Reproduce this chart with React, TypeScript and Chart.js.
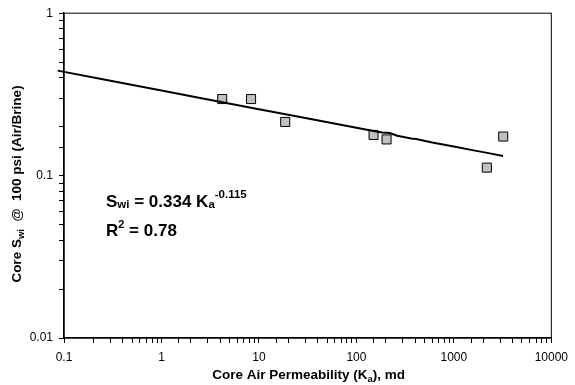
import React, { useEffect, useRef } from "react";
import { Chart, registerables } from "chart.js";

Chart.register(...registerables);

// Measured core data
const permK = [4.2, 8.3, 18.6, 150, 204, 2180, 3210];
const coreSwi = [0.296, 0.296, 0.214, 0.178, 0.167, 0.112, 0.174];

// Trend line
const trendK = [0.086, 0.3, 1, 3, 10, 30, 100, 150, 183, 220, 262, 365, 410, 600, 1000, 1500, 2200, 3200];
const trendSwi = [0.443, 0.384, 0.334, 0.294, 0.256, 0.226, 0.197, 0.188, 0.184, 0.183, 0.176, 0.169, 0.168, 0.16, 0.151, 0.144, 0.138, 0.132];

const xTickLabels: Record<number, string> = { [-1]: "0.1", 0: "1", 1: "10", 2: "100", 3: "1000", 4: "10000" };
const yTickLabels: Record<number, string> = { [-2]: "0.01", [-1]: "0.1", 0: "1" };

const FONT = "'Liberation Sans', Arial, sans-serif";

type Seg = { t: string; s: number; dy?: number };

function drawRich(ctx: CanvasRenderingContext2D, segs: Seg[], x: number, y: number, align: "left" | "center") {
  let total = 0;
  const widths = segs.map((g) => {
    ctx.font = `bold ${g.s}px ${FONT}`;
    const w = ctx.measureText(g.t).width;
    total += w;
    return w;
  });
  let cx = align === "center" ? x - total / 2 : x;
  ctx.textAlign = "left";
  ctx.textBaseline = "alphabetic";
  segs.forEach((g, i) => {
    ctx.font = `bold ${g.s}px ${FONT}`;
    ctx.fillText(g.t, cx, y + (g.dy || 0));
    cx += widths[i];
  });
}

const textPlugin = {
  id: "textPlugin",
  afterDraw(chart: any) {
    const ctx: CanvasRenderingContext2D = chart.ctx;
    const a = chart.chartArea;
    ctx.save();
    ctx.strokeStyle = "#000";
    ctx.lineWidth = 1;
    ctx.strokeRect(a.left, a.top, a.right - a.left, a.bottom - a.top);
    ctx.fillStyle = "#000";
    // x title
    drawRich(
      ctx,
      [
        { t: "Core Air Permeability (K", s: 13.5 },
        { t: "a", s: 9.5, dy: 2.5 },
        { t: "), md", s: 13.5 },
      ],
      (a.left + a.right) / 2 + 1,
      379,
      "center"
    );
    // y title
    ctx.save();
    ctx.translate(21, 184);
    ctx.rotate(-Math.PI / 2);
    drawRich(
      ctx,
      [
        { t: "Core S", s: 13.5 },
        { t: "wi", s: 9.5, dy: 2.5 },
        { t: "  @  100 psi (Air/Brine)", s: 13.5 },
      ],
      0,
      0,
      "center"
    );
    ctx.restore();
    // equation
    drawRich(
      ctx,
      [
        { t: "S", s: 17 },
        { t: "wi", s: 11.5, dy: 1 },
        { t: " = 0.334 K", s: 17 },
        { t: "a", s: 11.5, dy: 1 },
        { t: "-0.115", s: 11.5, dy: -9.5 },
      ],
      106,
      207,
      "left"
    );
    drawRich(
      ctx,
      [
        { t: "R", s: 17 },
        { t: "2", s: 11, dy: -7.5 },
        { t: " = 0.78", s: 17 },
      ],
      106,
      235.5,
      "left"
    );
    ctx.restore();
  },
};

function labelFor(map: Record<number, string>, v: number) {
  const l = Math.log10(v);
  const r = Math.round(l);
  if (Math.abs(l - r) < 1e-6 && map[r] !== undefined) return map[r];
  return "";
}

export default function App() {
  const ref = useRef<HTMLCanvasElement>(null);
  useEffect(() => {
    if (!ref.current) return;
    Chart.defaults.font.family = FONT;
    const chart = new Chart(ref.current, {
      type: "scatter",
      data: {
        datasets: [
          {
            type: "line",
            data: trendK.map((k, i) => ({ x: k, y: trendSwi[i] })),
            borderColor: "#000",
            borderWidth: 2,
            pointRadius: 0,
            fill: false,
            tension: 0,
            clip: false,
          } as any,
          {
            type: "scatter",
            data: permK.map((k, i) => ({ x: k, y: coreSwi[i] })),
            pointStyle: "rect",
            pointRadius: 6.4,
            backgroundColor: "#c0c0c0",
            borderColor: "#000",
            borderWidth: 1,
          } as any,
        ],
      },
      options: {
        responsive: false,
        animation: false,
        layout: { padding: { left: 0, top: 12, right: 19, bottom: 0 } },
        plugins: { legend: { display: false }, tooltip: { enabled: false } },
        scales: {
          x: {
            type: "logarithmic",
            min: 0.1,
            max: 10000,
            afterFit: (s: any) => {
              s.height = 47;
            },
            grid: { drawOnChartArea: false, drawTicks: true, tickLength: 5, tickColor: "#000", tickWidth: 1 },
            border: { display: true, color: "#000", width: 1.5 },
            ticks: {
              autoSkip: false,
              maxRotation: 0,
              color: "#000",
              padding: 7,
              font: { size: 12, family: FONT },
              callback: (v: any) => labelFor(xTickLabels, Number(v)),
            },
          },
          y: {
            type: "logarithmic",
            min: 0.01,
            max: 1,
            afterFit: (s: any) => {
              s.width = 64;
            },
            grid: { drawOnChartArea: false, drawTicks: true, tickLength: 5, tickColor: "#000", tickWidth: 1 },
            border: { display: true, color: "#000", width: 1.5 },
            ticks: {
              autoSkip: false,
              color: "#000",
              padding: 6,
              font: { size: 12, family: FONT },
              callback: (v: any) => labelFor(yTickLabels, Number(v)),
            },
          },
        },
      },
      plugins: [textPlugin],
    });
    return () => chart.destroy();
  }, []);
  return (
    <div style={{ position: "absolute", left: 0, top: 0, width: 575, height: 385, background: "#fff" }}>
      <canvas ref={ref} width={575} height={385} style={{ display: "block" }} />
    </div>
  );
}
